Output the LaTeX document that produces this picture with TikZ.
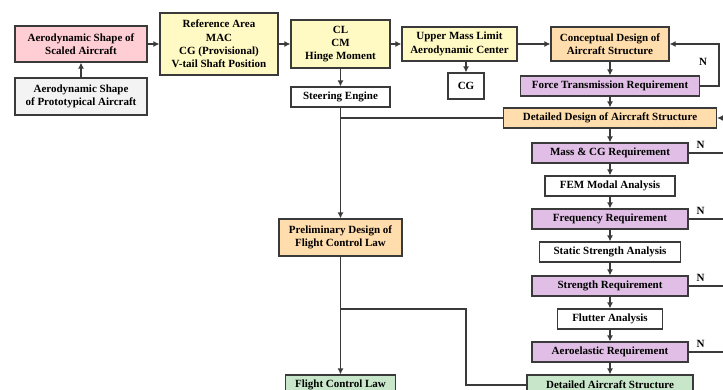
\documentclass[tikz,border=0pt]{standalone}
\usepackage{fontspec}
\setmainfont{Liberation Serif}
\usetikzlibrary{arrows.meta}
\definecolor{linegray}{RGB}{58,58,58}
\definecolor{pinkbox}{RGB}{255,205,212}
\definecolor{greybox}{RGB}{243,243,243}
\definecolor{yellowbox}{RGB}{255,249,196}
\definecolor{orangebox}{RGB}{255,221,172}
\definecolor{purplebox}{RGB}{224,190,230}
\definecolor{greenbox}{RGB}{200,230,201}

\begin{document}
\begin{tikzpicture}[x=1bp,y=-1bp,line width=1.2bp]
	\tikzstyle{box}=[draw=linegray,align=center,inner sep=2bp,minimum height=20bp,font=\fontsize{11bp}{13.3bp}\selectfont\bfseries];
	\tikzstyle{flow}=[draw=linegray,-{Latex[length=6bp,width=6bp]}];
	\tikzstyle{wire}=[draw=linegray];
	\useasboundingbox (0,0) rectangle (723,389);
	\clip (0,0) rectangle (723,389);
	% left part
	\node[box,fill=pinkbox,minimum width=132bp,minimum height=36bp] (scaled) at (81,44) {Aerodynamic Shape of\\Scaled Aircraft};
	\node[box,fill=greybox,minimum width=132bp,minimum height=37bp] (proto) at (81,96.5) {Aerodynamic Shape\\of Prototypical Aircraft};
	\node[box,fill=yellowbox,minimum width=118bp,minimum height=62bp] (refarea) at (219,44) {Reference Area\\MAC\\CG (Provisional)\\V-tail Shaft Position};
	\node[box,fill=yellowbox,minimum width=99bp,minimum height=48bp] (clcm) at (340.5,44) {CL\\CM\\Hinge Moment};
	\node[box,fill=white,minimum width=99bp] (steer) at (340.5,97) {Steering Engine};
	\node[box,fill=yellowbox,minimum width=115bp,minimum height=34bp] (upper) at (459.5,44) {Upper Mass Limit\\Aerodynamic Center};
	\node[box,fill=white,minimum width=36bp,minimum height=26bp] (cg) at (466,86) {CG};
	\node[box,fill=orangebox,minimum width=123bp,minimum height=37bp] (prelim) at (340.5,237.5) {Preliminary Design of\\Flight Control Law};
	\node[box,fill=greenbox,minimum width=110bp] (fcl) at (340.5,385) {Flight Control Law};
	% right column
	\node[box,fill=orangebox,minimum width=118bp,minimum height=34bp] (concept) at (610,44) {Conceptual Design of\\Aircraft Structure};
	\node[box,fill=purplebox,minimum width=179bp] (force) at (610,86) {Force Transmission Requirement};
	\node[box,fill=orangebox,minimum width=213bp] (detdesign) at (610,118) {Detailed Design of Aircraft Structure};
	\node[box,fill=purplebox,minimum width=156bp] (masscg) at (610,153) {Mass \& CG Requirement};
	\node[box,fill=white,minimum width=130bp] (fem) at (610,186) {FEM Modal Analysis};
	\node[box,fill=purplebox,minimum width=156bp] (freq) at (610,219) {Frequency Requirement};
	\node[box,fill=white,minimum width=141bp] (static) at (610,252) {Static Strength Analysis};
	\node[box,fill=purplebox,minimum width=156bp] (strength) at (610,286) {Strength Requirement};
	\node[box,fill=white,minimum width=105bp] (flutter) at (610,319) {Flutter Analysis};
	\node[box,fill=purplebox,minimum width=156bp] (aero) at (610,352) {Aeroelastic Requirement};
	\node[box,fill=greenbox,minimum width=166bp] (detstruct) at (610,385) {Detailed Aircraft Structure};
	\coordinate (loopr) at (719,62);
	\coordinate (fbr) at (740,118);
	\coordinate (split) at (466,309);
	% connectors
	\draw[flow] (proto) -- (scaled);
	\draw[flow] (scaled) -- (refarea);
	\draw[flow] (refarea) -- (clcm);
	\draw[flow] (clcm) -- (upper);
	\draw[flow] (upper) -- (concept);
	\draw[flow] (clcm) -- (steer);
	\draw[flow] (cg.north |- upper.south) -- (cg);
	\foreach \a/\b in {concept/force,force/detdesign,detdesign/masscg,masscg/fem,fem/freq,freq/static,static/strength,strength/flutter,flutter/aero,aero/detstruct}
		\draw[flow] (\a) -- (\b);
	\draw[flow] (force.east) -| (loopr) |- (concept.east);
	\node[font=\fontsize{11bp}{13.3bp}\selectfont\bfseries] (n0) at (703,62) {N};
	\foreach \req in {masscg,freq,strength,aero}{
		\draw[wire] (\req.east) -- (\req.east -| fbr);
		\node[font=\fontsize{11bp}{13.3bp}\selectfont\bfseries] (n\req) at ([xshift=12bp,yshift=8bp]\req.east) {N};
	}
	\draw[wire] (fbr |- aero.east) -- (fbr);
	\draw[flow] (fbr) -- (detdesign.east);
	\draw[flow] (steer) -- (prelim);
	\draw[wire] (detdesign.west) -- (steer.south |- detdesign.west);
	\draw[flow] (prelim) -- (fcl);
	\draw[wire] (prelim.south |- split) -- (split) |- (detstruct.west);
\end{tikzpicture}
\end{document}
